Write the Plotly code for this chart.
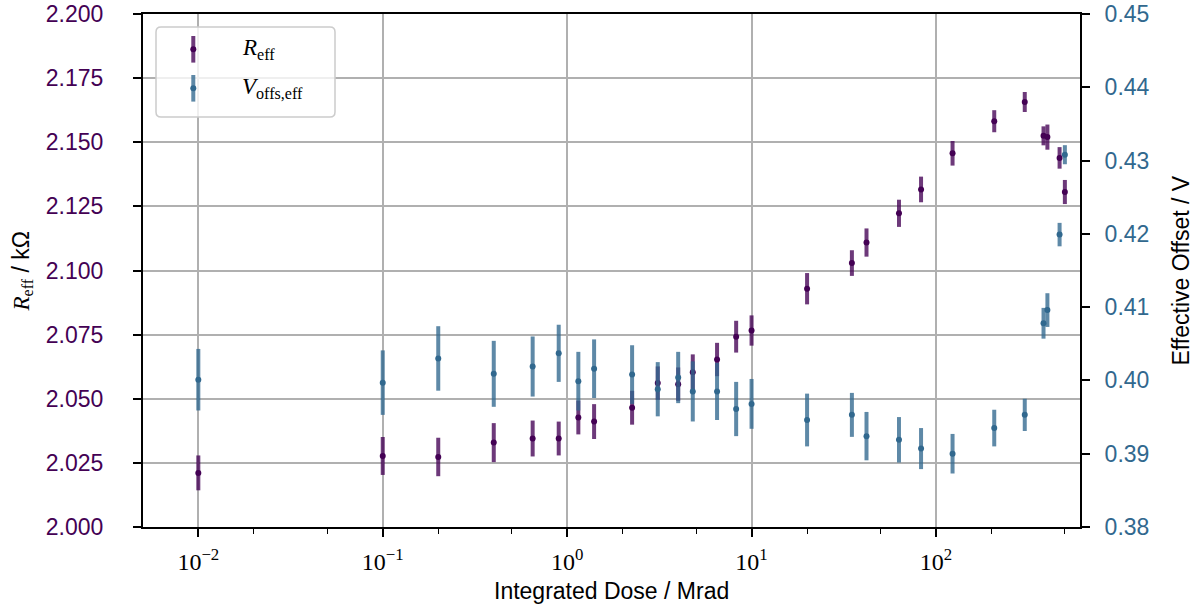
import plotly.graph_objects as go

# ---------------- data ----------------
dose = [0.01, 0.1, 0.2, 0.4, 0.65, 0.9, 1.15, 1.4, 2.25, 3.1, 4.0, 4.8, 6.5, 8.25, 10,
        20, 35, 42, 63, 83, 123, 207, 303, 383, 402, 468, 500]

r_eff = [2.0211, 2.0277, 2.0273, 2.0329, 2.0345, 2.0345, 2.0427, 2.0411, 2.0465, 2.0561,
         2.0557, 2.0603, 2.0653, 2.0742, 2.0766, 2.0929, 2.1029, 2.1109, 2.1223, 2.1316,
         2.1457, 2.1582, 2.1657, 2.1525, 2.1520, 2.1439, 2.1306]
r_err = [0.0068, 0.0074, 0.0075, 0.0076, 0.0070, 0.0066, 0.0066, 0.0068, 0.0066, 0.0065,
         0.0065, 0.0070, 0.0065, 0.0062, 0.0059, 0.0061, 0.0050, 0.0055, 0.0053, 0.0050,
         0.0048, 0.0043, 0.0039, 0.0037, 0.0049, 0.0042, 0.0047]

v_offs = [0.4001, 0.3997, 0.4030, 0.4009, 0.4019, 0.4037, 0.3999, 0.4016, 0.4008, 0.3988,
          0.4004, 0.3985, 0.3985, 0.3961, 0.3968, 0.3946, 0.3953, 0.3924, 0.3919, 0.3907,
          0.3900, 0.3935, 0.3953, 0.4078, 0.4096, 0.4199, 0.4308]
v_err = [0.0042, 0.0044, 0.0044, 0.0045, 0.0041, 0.0039, 0.0040, 0.0040, 0.0040, 0.0037,
         0.0035, 0.0041, 0.0039, 0.0037, 0.0034, 0.0036, 0.0030, 0.0033, 0.0031, 0.0028,
         0.0027, 0.0025, 0.0022, 0.0021, 0.0023, 0.0016, 0.0013]

left_ticks = [2.000, 2.025, 2.050, 2.075, 2.100, 2.125, 2.150, 2.175, 2.200]
left_ticktext = ["2.000", "2.025", "2.050", "2.075", "2.100", "2.125", "2.150", "2.175", "2.200"]
right_ticks = [0.38, 0.39, 0.40, 0.41, 0.42, 0.43, 0.44, 0.45]
right_ticktext = ["0.38", "0.39", "0.40", "0.41", "0.42", "0.43", "0.44", "0.45"]
x_ticks = [0.01, 0.1, 1, 10, 100]
x_ticktext = ["10<sup>−2</sup>", "10<sup>−1</sup>", "10<sup>0</sup>", "10<sup>1</sup>", "10<sup>2</sup>"]

# ---------------- style ----------------
W, H = 1203, 607
L, R, T, B = 143, 1080, 14, 527
PURPLE = "#440154"
PURPLE_BAR = "rgba(68,1,84,0.78)"
BLUE = "#31688e"
BLUE_BAR = "rgba(49,104,142,0.78)"
SANS = "Liberation Sans, Arial, sans-serif"
SERIF = "Liberation Serif, Times New Roman, serif"
FS = 23

fig = go.Figure()
fig.add_trace(go.Scatter(
    x=dose, y=r_eff, mode="markers", name="R_eff",
    marker=dict(color=PURPLE, size=6, line=dict(width=0)),
    error_y=dict(type="data", array=r_err, visible=True, thickness=4, width=0, color=PURPLE_BAR),
    yaxis="y", showlegend=False,
))
fig.add_trace(go.Scatter(
    x=dose, y=v_offs, mode="markers", name="V_offs,eff",
    marker=dict(color=BLUE, size=6, line=dict(width=0)),
    error_y=dict(type="data", array=v_err, visible=True, thickness=4, width=0, color=BLUE_BAR),
    yaxis="y2", showlegend=False,
))

# helpers: pixel -> paper coordinates
def px(x):
    return (x - L) / (R - L)

def py(y):
    return (B - y) / (B - T)

shapes = []
x0, x1, y0, y1, rad = 156, 335, 27, 117, 5
rx, ry = rad / (R - L), rad / (B - T)
X0, X1, Y0, Y1 = px(x0), px(x1), py(y1), py(y0)
path = (f"M {X0+rx},{Y0} L {X1-rx},{Y0} Q {X1},{Y0} {X1},{Y0+ry} "
        f"L {X1},{Y1-ry} Q {X1},{Y1} {X1-rx},{Y1} L {X0+rx},{Y1} "
        f"Q {X0},{Y1} {X0},{Y1-ry} L {X0},{Y0+ry} Q {X0},{Y0} {X0+rx},{Y0} Z")
shapes.append(dict(type="path", xref="paper", yref="paper", path=path,
                   fillcolor="rgba(255,255,255,0.8)", line=dict(color="#cccccc", width=1.5),
                   layer="above"))
annotations = []
for (cy, col_bar, col_dot, label) in [
    (49.3, PURPLE_BAR, PURPLE, "<i>R</i><sub>eff</sub>"),
    (88.3, BLUE_BAR, BLUE, "<i>V</i><sub>offs,eff</sub>"),
]:
    cx = 193.3
    shapes.append(dict(type="line", xref="paper", yref="paper",
                       x0=px(cx), x1=px(cx), y0=py(cy - 13.3), y1=py(cy + 13.3),
                       line=dict(color=col_bar, width=4), layer="above"))
    shapes.append(dict(type="circle", xref="paper", yref="paper",
                       x0=px(cx - 3), x1=px(cx + 3), y0=py(cy + 3), y1=py(cy - 3),
                       fillcolor=col_dot, line=dict(width=0), layer="above"))
    annotations.append(dict(xref="paper", yref="paper", x=px(240), y=py(cy),
                            xanchor="left", yanchor="middle", showarrow=False,
                            text=label, font=dict(family=SERIF, size=23, color="black")))

# axis titles
annotations.append(dict(xref="paper", yref="paper", x=px(22), y=py(270.5),
                        xanchor="center", yanchor="middle", textangle=-90, showarrow=False,
                        text=f"<span style='font-family:{SERIF}'><i>R</i><sub>eff</sub></span> / kΩ",
                        font=dict(family=SANS, size=FS, color="black")))
annotations.append(dict(xref="paper", yref="paper", x=px(1180), y=py(270.5),
                        xanchor="center", yanchor="middle", textangle=-90, showarrow=False,
                        text="Effective Offset / V",
                        font=dict(family=SANS, size=FS, color="black")))
annotations.append(dict(xref="paper", yref="paper", x=px(611.5), y=py(591),
                        xanchor="center", yanchor="middle", showarrow=False,
                        text="Integrated Dose / Mrad",
                        font=dict(family=SANS, size=FS, color="black")))

fig.update_layout(
    width=W, height=H,
    margin=dict(l=L, r=W - R, t=T, b=H - B, pad=0),
    paper_bgcolor="white", plot_bgcolor="white",
    template="none",
    showlegend=False,
    hovermode=False,
    shapes=shapes,
    annotations=annotations,
    xaxis=dict(
        type="log", range=[-2.300, 2.781],
        tickvals=x_ticks, ticktext=x_ticktext,
        showgrid=True, gridcolor="#b0b0b0", gridwidth=1.5,
        showline=True, linecolor="black", linewidth=2, mirror=True,
        ticks="outside", ticklen=8, tickwidth=1.5, tickcolor="black",
        minor=dict(ticks="outside", ticklen=4.5, tickwidth=1.2, tickcolor="black", showgrid=False),
        tickfont=dict(family=SERIF, size=24, color="black"),
        zeroline=False, automargin=False, ticklabelstandoff=4,
    ),
    yaxis=dict(
        range=[2.0, 2.2], tickvals=left_ticks, ticktext=left_ticktext,
        showgrid=True, gridcolor="#b0b0b0", gridwidth=1.5,
        showline=True, linecolor="black", linewidth=2,
        ticks="outside", ticklen=8, tickwidth=1.5, tickcolor="black",
        tickfont=dict(family=SANS, size=FS, color=PURPLE),
        zeroline=False, automargin=False, ticklabelstandoff=25,
        ticklabeloverflow="allow",
    ),
    yaxis2=dict(
        range=[0.38, 0.45], tickvals=right_ticks, ticktext=right_ticktext,
        overlaying="y", side="right", anchor="x",
        showgrid=False,
        showline=True, linecolor="black", linewidth=2,
        ticks="outside", ticklen=8, tickwidth=1.5, tickcolor="black",
        tickfont=dict(family=SANS, size=FS, color=BLUE),
        zeroline=False, automargin=False, ticklabelstandoff=10,
        ticklabeloverflow="allow",
    ),
)

# remove the browser's default 8px page margin so the figure fills the window exactly
fig.write_html("out.html", config={"displayModeBar": False},
               post_script="document.body.style.margin='0px';")
